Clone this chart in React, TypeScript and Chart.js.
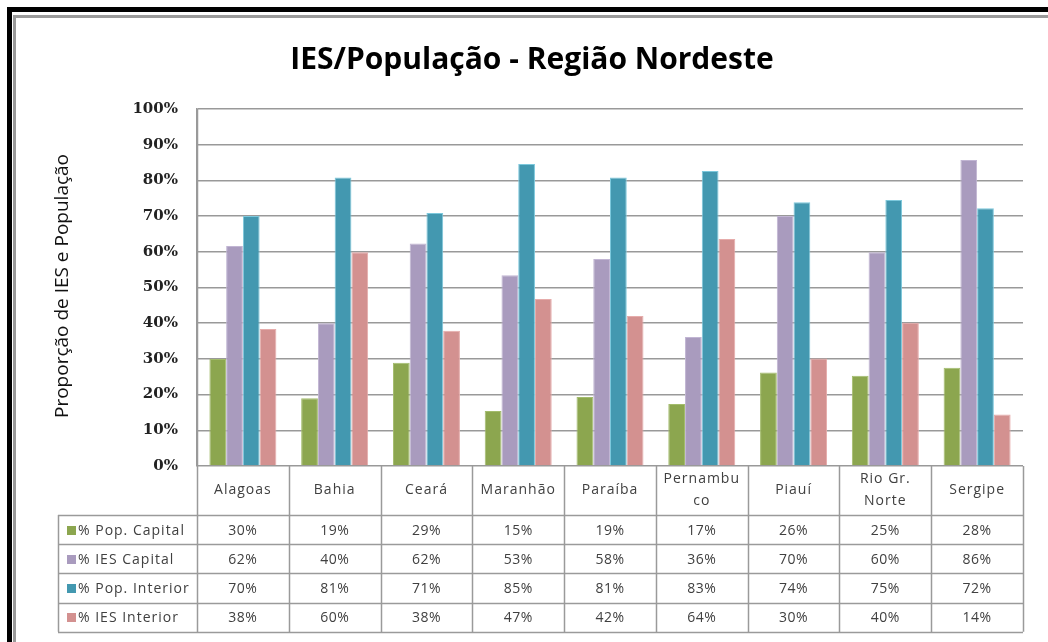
import React, { useEffect, useRef } from "react";
import { Chart, registerables } from "chart.js";

Chart.register(...registerables);

const CHART_TITLE = "IES/População - Região Nordeste";
const Y_TITLE = "Proporção de IES e População";

const categories = ["Alagoas", "Bahia", "Ceará", "Maranhão", "Paraíba", "Pernambu\nco", "Piauí", "Rio Gr.\nNorte", "Sergipe"];
const seriesNames = ["% Pop. Capital", "% IES Capital", "% Pop. Interior", "% IES Interior"];
const popCapital = [30.0, 19.0, 28.9, 15.4, 19.3, 17.4, 26.2, 25.3, 27.5];
const iesCapital = [61.6, 40.0, 62.3, 53.4, 58.0, 36.1, 70.0, 59.9, 85.7];
const popInterior = [70.0, 80.8, 70.9, 84.6, 80.8, 82.6, 73.9, 74.5, 72.2];
const iesInterior = [38.4, 59.9, 37.9, 46.8, 42.0, 63.6, 30.1, 40.1, 14.4];
const seriesColors = ["#8CA64F", "#A99BBE", "#4398B0", "#D39190"];
const seriesBorders = ["#A3BC6C", "#C1B5D3", "#7CC8DC", "#E6ACAB"];
const yTickValues = [0, 10, 20, 30, 40, 50, 60, 70, 80, 90, 100];

const seriesValues = [popCapital, iesCapital, popInterior, iesInterior];

const decorPlugin = {
  id: "decor",
  beforeDraw(chart: any) {
    const { ctx, width, height } = chart;
    ctx.save();
    ctx.fillStyle = "#ffffff";
    ctx.fillRect(0, 0, width, height);
    ctx.restore();
  },
  afterDraw(chart: any) {
    const { ctx, chartArea: a, scales } = chart;
    const x = scales.x;
    ctx.save();

    // frame
    ctx.fillStyle = "#000000";
    ctx.fillRect(7, 7, 5, 635);
    ctx.fillRect(7, 7, 1041, 5);
    ctx.fillStyle = "#9a9a9a";
    ctx.fillRect(13, 15, 3, 627);
    ctx.fillRect(13, 15, 1035, 3);

    // title
    ctx.fillStyle = "#000000";
    ctx.font = "bold 30px 'Open Sans'";
    ctx.textAlign = "center";
    ctx.textBaseline = "middle";
    ctx.fillText(CHART_TITLE, 532, 60);

    // y axis title
    ctx.save();
    ctx.translate(63, 286);
    ctx.rotate(-Math.PI / 2);
    ctx.font = "19px 'Open Sans'";
    ctx.fillStyle = "#111111";
    ctx.fillText(Y_TITLE, 0, 0);
    ctx.restore();

    // data table
    const n = categories.length;
    const cw = (a.right - a.left) / n;
    const headerBottom = a.bottom + 49;
    const rowH = 29.2;
    const tableBottom = headerBottom + rowH * seriesNames.length;
    const legendLeft = 58;

    ctx.strokeStyle = "#9a9a9a";
    ctx.lineWidth = 1.5;
    ctx.beginPath();
    for (let i = 0; i <= n; i++) {
      const px = Math.round(a.left + cw * i) + 0.5;
      ctx.moveTo(px, i === 0 ? a.top : a.bottom);
      ctx.lineTo(px, tableBottom);
    }
    ctx.moveTo(legendLeft + 0.5, headerBottom);
    ctx.lineTo(legendLeft + 0.5, tableBottom);
    for (let k = 0; k <= seriesNames.length; k++) {
      const py = Math.round(headerBottom + rowH * k) + 0.5;
      ctx.moveTo(legendLeft, py);
      ctx.lineTo(a.right, py);
    }
    ctx.stroke();

    ctx.fillStyle = "#404040";
    ctx.textBaseline = "middle";
    ctx.textAlign = "center";
    (ctx as any).letterSpacing = "1px";
    ctx.font = "14px 'Open Sans'";
    const headerMid = (a.bottom + headerBottom) / 2;
    categories.forEach((c, i) => {
      const cx = x.getPixelForValue(i);
      const lines = c.split("\n");
      lines.forEach((ln, j) => {
        const yy = headerMid + (j - (lines.length - 1) / 2) * 22;
        ctx.fillText(ln, cx, yy);
      });
    });

    (ctx as any).letterSpacing = "0.5px";
    seriesValues.forEach((vals, s) => {
      const yy = headerBottom + rowH * s + rowH / 2 + 1;
      vals.forEach((v, i) => {
        ctx.fillText(Math.round(v) + "%", x.getPixelForValue(i), yy);
      });
    });

    (ctx as any).letterSpacing = "1px";
    ctx.textAlign = "left";
    seriesNames.forEach((nm, s) => {
      const yy = headerBottom + rowH * s + rowH / 2 + 1;
      ctx.fillStyle = seriesColors[s];
      ctx.fillRect(67, Math.round(yy - 5), 9, 9);
      ctx.fillStyle = "#404040";
      ctx.fillText(nm, 78, yy);
    });

    ctx.restore();
  },
};

export default function App() {
  const canvasRef = useRef<HTMLCanvasElement>(null);

  useEffect(() => {
    const canvas = canvasRef.current;
    if (!canvas) return;
    const chart = new Chart(canvas, {
      type: "bar",
      data: {
        labels: categories,
        datasets: seriesNames.map((nm, s) => ({
          label: nm,
          data: seriesValues[s],
          backgroundColor: seriesColors[s],
          borderColor: seriesBorders[s],
          borderWidth: 1,
          categoryPercentage: 0.73,
          barPercentage: 1.0,
        })),
      },
      options: {
        responsive: false,
        animation: false,
        devicePixelRatio: 1,
        layout: { padding: { left: 0, top: 109, right: 25, bottom: 176 } },
        plugins: {
          legend: { display: false },
          title: { display: false },
          tooltip: { enabled: false },
        },
        scales: {
          x: { display: false, offset: true },
          y: {
            min: 0,
            max: 100,
            afterBuildTicks: (scale: any) => {
              scale.ticks = yTickValues.map((v) => ({ value: v }));
            },
            ticks: {
              callback: (v: any) => v + "%",
              padding: 19,
              color: "#222222",
              font: { family: "'DejaVu Serif'", size: 15, weight: "bold" },
            },
            grid: { color: "#999999", lineWidth: 1.5, drawTicks: false },
            border: { display: true, color: "#999999", width: 1.5 },
            afterFit: (scale: any) => {
              scale.width = 197;
            },
          },
        },
      },
      plugins: [decorPlugin],
    } as any);
    return () => chart.destroy();
  }, []);

  return (
    <div style={{ position: "fixed", left: 0, top: 0, width: 1048, height: 642 }}>
      <canvas ref={canvasRef} width={1048} height={642} style={{ display: "block" }} />
    </div>
  );
}
